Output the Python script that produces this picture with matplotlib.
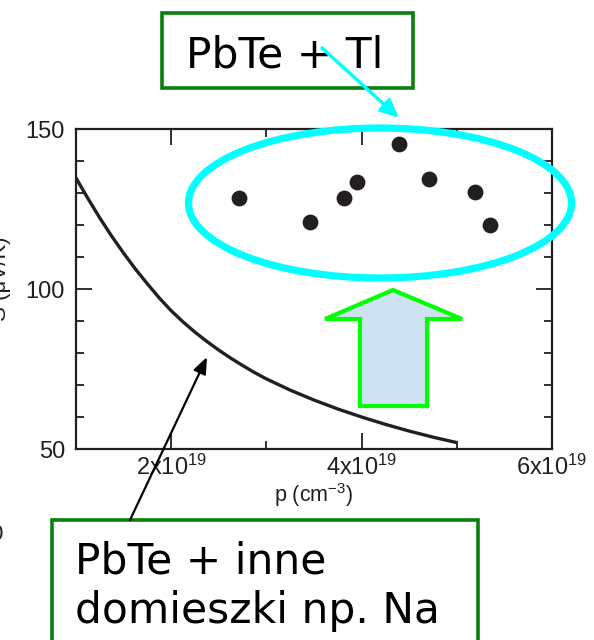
import matplotlib
matplotlib.use('Agg')
import matplotlib.pyplot as plt
from matplotlib.patches import Ellipse, Polygon, Rectangle, FancyArrowPatch

# dane (p w jednostkach 1e19 cm^-3, S w uV/K)
curve_p = [1.0, 1.125, 1.25, 1.375, 1.5, 1.625, 1.75, 1.875, 2.0, 2.125, 2.25, 2.375, 2.5,
           2.625, 2.75, 2.875, 3.0, 3.25, 3.5, 3.75, 4.0, 4.25, 4.5, 4.75, 5.0]
curve_s = [134.7, 128.3, 122.2, 116.5, 111.2, 106.2, 101.6, 97.2, 93.2, 89.7, 86.5, 83.6, 80.9,
           78.4, 76.1, 73.9, 71.9, 68.4, 65.3, 62.5, 60.0, 57.7, 55.6, 53.7, 52.0]
tl_p = [2.71, 3.46, 3.81, 3.95, 4.39, 4.71, 5.19, 5.35]
tl_s = [128.4, 121.0, 128.5, 133.5, 145.3, 134.3, 130.4, 120.0]
xtick_vals = [2, 4, 6]
xtick_labels = [r'2x10$^{19}$', r'4x10$^{19}$', r'6x10$^{19}$']

plt.rcParams['font.family'] = ['Liberation Sans', 'DejaVu Sans']
plt.rcParams['mathtext.fontset'] = 'custom'
plt.rcParams['mathtext.rm'] = 'Liberation Sans'
plt.rcParams['mathtext.default'] = 'regular'

W, H = 594, 640


def fx(px):
    return px / W


def fy(py):
    return 1 - py / H


fig = plt.figure(figsize=(W / 100, H / 100), dpi=100)
ax = fig.add_axes([fx(76), fy(449), (552 - 76) / W, (449 - 129) / H])

dark = '#231f20'
ax.plot(curve_p, curve_s, color=dark, lw=2.4, solid_capstyle='butt', solid_joinstyle='round')
ax.scatter(tl_p, tl_s, s=130, color=dark, zorder=3, linewidths=0)

ax.set_xlim(1, 6)
ax.set_ylim(50, 150)
ax.set_xticks(xtick_vals)
ax.set_xticklabels(xtick_labels)
ax.set_xticks([3, 5], minor=True)
ax.set_yticks([50, 100, 150])
ax.set_yticks([60, 70, 80, 90, 110, 120, 130, 140], minor=True)
ax.tick_params(which='both', direction='in', top=True, right=True, width=1.3, color=dark, labelsize=17, labelcolor=dark)
ax.tick_params(which='major', length=11.5)
ax.tick_params(which='minor', length=5.8)
ax.tick_params(axis='x', pad=4)
ax.tick_params(axis='y', pad=8)
for sp in ax.spines.values():
    sp.set_linewidth(1.6)
    sp.set_color(dark)
ax.set_xlabel(r'p (cm$^{-3}$)', fontsize=15.5, color=dark, labelpad=1)

fig.text(fx(1), fy(279), 'S (\u03bcV/K)', rotation=90, ha='center', va='center', fontsize=16, color=dark)
fig.text(fx(-4), fy(535), '0', ha='center', va='center', fontsize=16, color=dark)

# elipsa wokol punktow Tl
fig.add_artist(Ellipse((fx(380), fy(203)), 383 / W, 150 / H, transform=fig.transFigure,
                       fill=False, ec='#00ffff', lw=5.2, zorder=4))

# strzalka w gore
up = [(393, 290), (462, 319), (427, 319), (427, 406), (360, 406), (360, 319), (325, 319)]
fig.add_artist(Polygon([(fx(a), fy(b)) for a, b in up], closed=True, transform=fig.transFigure,
                       fc='#cfe2f3', ec='#00ff00', lw=3, zorder=4))

# ramka gorna
fig.add_artist(Rectangle((fx(162), fy(88)), (413 - 162) / W, (88 - 13) / H, transform=fig.transFigure,
                         fc='white', ec='#0a800a', lw=2.6, zorder=5))
fig.text(fx(285), fy(67), 'PbTe + Tl', ha='center', va='baseline', fontsize=30.5,
         family='DejaVu Sans', color='black', zorder=6)
fig.add_artist(FancyArrowPatch((fx(322), fy(48)), (fx(399), fy(118)), transform=fig.transFigure,
                               arrowstyle='-|>,head_length=11,head_width=5', color='#00ffff',
                               lw=2.5, shrinkA=0, shrinkB=0, zorder=7))

# ramka dolna
fig.add_artist(Rectangle((fx(52), fy(660)), (478 - 52) / W, (660 - 520) / H, transform=fig.transFigure,
                         fc='white', ec='#0a800a', lw=2.6, zorder=5, clip_on=False))
fig.text(fx(75), fy(573), 'PbTe + inne', ha='left', va='baseline', fontsize=30.5,
         family='DejaVu Sans', color='black', zorder=6)
fig.text(fx(75), fy(623), 'domieszki np. Na', ha='left', va='baseline', fontsize=30.5,
         family='DejaVu Sans', color='black', zorder=6)
fig.add_artist(FancyArrowPatch((fx(130), fy(520)), (fx(207), fy(357)), transform=fig.transFigure,
                               arrowstyle='-|>,head_length=10,head_width=4', color='black',
                               lw=1.6, shrinkA=0, shrinkB=0, zorder=7))

fig.savefig('out.png', dpi=100)
